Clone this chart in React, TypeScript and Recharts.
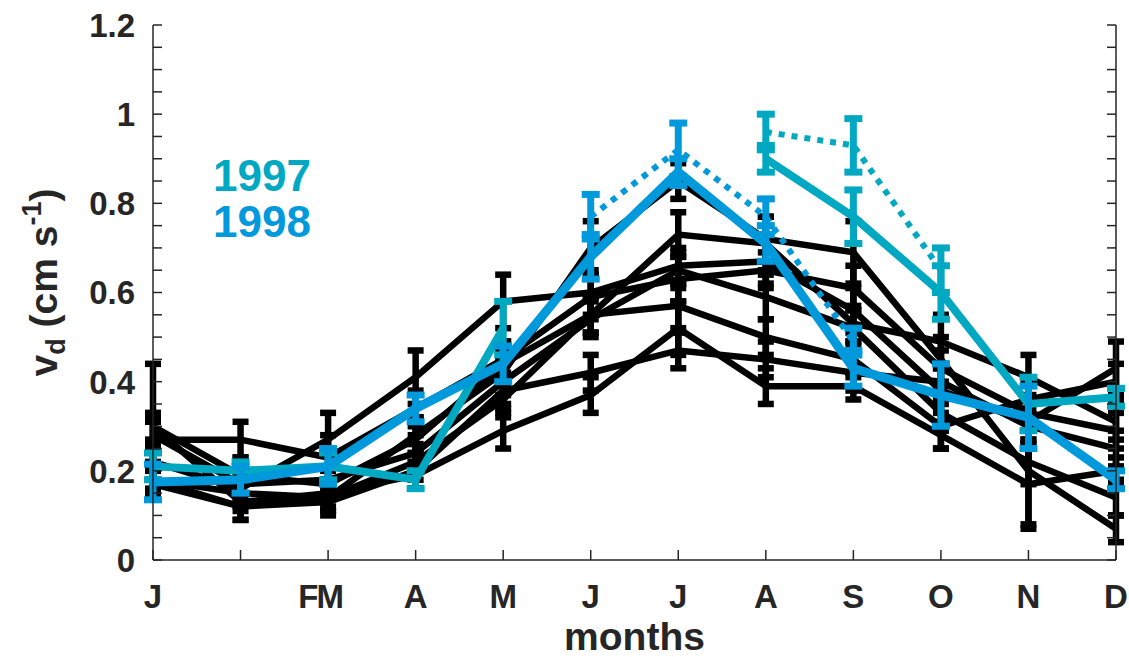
import React from "react";
import { LineChart, Line, XAxis, YAxis, ErrorBar } from "recharts";

// months 1..12, month tick labels as printed on the figure
const months = [1, 2, 3, 4, 5, 6, 7, 8, 9, 10, 11, 12];
const monthLabels = ["J", "", "FM", "A", "M", "J", "J", "A", "S", "O", "N", "D"];

const yTicks = [
  0, 0.05, 0.1, 0.15, 0.2, 0.25, 0.3, 0.35, 0.4, 0.45, 0.5, 0.55, 0.6, 0.65,
  0.7, 0.75, 0.8, 0.85, 0.9, 0.95, 1, 1.05, 1.1, 1.15, 1.2,
];
const yLabels = ["0", "0.2", "0.4", "0.6", "0.8", "1", "1.2"];

// other years (black)
const b1 = [0.18, 0.15, 0.14, 0.28, 0.42, 0.7, 0.85, 0.72, 0.69, 0.45, 0.2, 0.07];
const b2 = [0.3, 0.19, 0.17, 0.27, 0.44, 0.55, 0.73, 0.71, 0.53, 0.49, 0.41, 0.31];
const b3 = [0.27, 0.27, 0.23, 0.34, 0.45, 0.59, 0.63, 0.65, 0.61, 0.43, 0.33, 0.29];
const b4 = [0.22, 0.16, 0.27, 0.41, 0.58, 0.6, 0.66, 0.67, 0.56, 0.38, 0.31, 0.43];
const b5 = [0.28, 0.17, 0.18, 0.24, 0.4, 0.54, 0.65, 0.59, 0.52, 0.33, 0.22, 0.14];
const b6 = [0.17, 0.12, 0.14, 0.22, 0.36, 0.55, 0.57, 0.5, 0.45, 0.3, 0.36, 0.4];
const b7 = [0.18, 0.12, 0.13, 0.2, 0.38, 0.42, 0.47, 0.45, 0.42, 0.4, 0.3, 0.25];
const b8 = [0.3, 0.13, 0.15, 0.19, 0.29, 0.37, 0.52, 0.39, 0.39, 0.28, 0.17, 0.2];

const b1Err = [0.03, 0.03, 0.03, 0.04, 0.05, 0.06, 0.04, 0.05, 0.07, 0.05, 0.12, 0.03];
const b2Err = [0.14, 0.04, 0.03, 0.05, 0.05, 0.04, 0.05, 0.06, 0.04, 0.06, 0.05, 0.04];
const b3Err = [0.05, 0.04, 0.05, 0.04, 0.04, 0.05, 0.05, 0.04, 0.05, 0.04, 0.04, 0.04];
const b4Err = [0.04, 0.03, 0.06, 0.06, 0.06, 0.05, 0.04, 0.05, 0.05, 0.05, 0.05, 0.06];
const b5Err = [0.03, 0.03, 0.03, 0.04, 0.05, 0.04, 0.04, 0.05, 0.04, 0.04, 0.05, 0.04];
const b6Err = [0.03, 0.03, 0.03, 0.04, 0.04, 0.04, 0.05, 0.04, 0.04, 0.05, 0.04, 0.04];
const b7Err = [0.03, 0.03, 0.03, 0.04, 0.04, 0.04, 0.04, 0.04, 0.04, 0.04, 0.04, 0.04];
const b8Err = [0.03, 0.02, 0.03, 0.03, 0.04, 0.04, 0.06, 0.04, 0.03, 0.03, 0.1, 0.03];

const blackSeries = [b1, b2, b3, b4, b5, b6, b7, b8];
const blackErrors = [b1Err, b2Err, b3Err, b4Err, b5Err, b6Err, b7Err, b8Err];

// 1997 and 1998
const y1997 = [0.21, 0.2, 0.21, 0.18, 0.52, null, null, 0.9, 0.77, 0.6, 0.35, 0.365];
const y1997Err = [0.03, 0.02, 0.03, 0.02, 0.06, null, null, 0.03, 0.06, 0.06, 0.06, 0.02];
const y1998 = [0.175, 0.18, 0.21, 0.34, 0.44, 0.68, 0.87, 0.71, 0.43, 0.37, 0.32, 0.18];
const y1998Err = [0.04, 0.03, 0.04, 0.03, 0.04, 0.05, 0.03, 0.04, 0.04, 0.07, 0.07, 0.02];

// dotted variants
const y1997Dot = [null, null, null, null, null, null, null, 0.96, 0.93, 0.65, null, null];
const y1997DotErr = [null, null, null, null, null, null, null, 0.04, 0.06, 0.05, null, null];
const y1998Dot = [null, null, null, null, null, 0.77, 0.92, 0.77, 0.49, null, null, null];
const y1998DotErr = [null, null, null, null, null, 0.05, 0.06, 0.04, 0.03, null, null, null];

const TEAL = "#00A8C2";
const BLUE = "#0099DC";
const AXIS = "#262626";
const FONT = "'Liberation Sans', Arial, Helvetica, sans-serif";

const data = months.map((m, i) => {
  const row: any = {
    m,
    t97: y1997[i],
    t97e: y1997Err[i],
    t98: y1998[i],
    t98e: y1998Err[i],
    d97: y1997Dot[i],
    d97e: y1997DotErr[i],
    d98: y1998Dot[i],
    d98e: y1998DotErr[i],
  };
  blackSeries.forEach((s, k) => {
    row[`b${k}`] = s[i];
    row[`b${k}e`] = blackErrors[k][i];
  });
  return row;
});

const LeftTick = (p: any) => {
  const v = p.payload.value;
  const lab = yLabels.find((l) => Math.abs(parseFloat(l) - v) < 1e-6);
  return (
    <g>
      <line x1={p.x} x2={p.x + 9} y1={p.y} y2={p.y} stroke={AXIS} strokeWidth={1.5} />
      {lab !== undefined && (
        <text
          x={p.x - 18}
          y={p.y}
          dy="0.36em"
          textAnchor="end"
          fontFamily={FONT}
          fontWeight="bold"
          fontSize={33}
          fill={AXIS}
        >
          {lab}
        </text>
      )}
    </g>
  );
};

const RightTick = (p: any) => (
  <line x1={p.x} x2={p.x - 9} y1={p.y} y2={p.y} stroke={AXIS} strokeWidth={1.5} />
);

const BottomTick = (p: any) => {
  const i = months.indexOf(p.payload.value);
  return (
    <g>
      <line x1={p.x} x2={p.x} y1={p.y} y2={p.y - 10} stroke={AXIS} strokeWidth={1.5} />
      <text
        x={p.x - (monthLabels[i] === "FM" ? 8 : 0)}
        y={p.y + 36}
        dy="0.36em"
        textAnchor="middle"
        fontFamily={FONT}
        fontWeight="bold"
        fontSize={33}
        letterSpacing={monthLabels[i] === "FM" ? -2 : 0}
        fill={AXIS}
      >
        {monthLabels[i]}
      </text>
    </g>
  );
};

const TopTick = (p: any) => (
  <line x1={p.x} x2={p.x} y1={p.y} y2={p.y + 10} stroke={AXIS} strokeWidth={1.5} />
);

const MonthsLabel = (p: any) => {
  const vb = p.viewBox;
  return (
    <text
      x={vb.x + vb.width / 2}
      y={vb.y + 90}
      textAnchor="middle"
      fontFamily={FONT}
      fontWeight="bold"
      fontSize={39}
      fill={AXIS}
    >
      months
    </text>
  );
};

const VdLabel = (p: any) => {
  const vb = p.viewBox;
  const cx = vb.x + 4;
  const cy = vb.y + vb.height / 2 - 10;
  return (
    <text
      x={cx}
      y={cy}
      transform={`rotate(-90, ${cx}, ${cy})`}
      textAnchor="middle"
      fontFamily={FONT}
      fontWeight="bold"
      fontSize={39}
      fill={AXIS}
    >
      v
      <tspan fontSize={27} dy={8}>d</tspan>
      <tspan dy={-8}> (cm s</tspan>
      <tspan fontSize={27} dy={-16}>-1</tspan>
      <tspan dy={16}>)</tspan>
    </text>
  );
};

export default function App() {
  return (
    <div style={{ position: "absolute", left: 0, top: 0, width: 1129, height: 657, background: "#fff" }}>
      <LineChart
        width={1129}
        height={657}
        data={data}
        margin={{ top: 25, right: 0, bottom: 0, left: 53 }}
      >
        <XAxis
          dataKey="m"
          type="number"
          domain={[1, 12]}
          ticks={months}
          interval={0}
          height={97}
          tickSize={0}
          tickMargin={0}
          tick={<BottomTick />}
          tickLine={false}
          axisLine={{ stroke: AXIS, strokeWidth: 1.5 }}
          label={<MonthsLabel />}
        />
        <XAxis
          xAxisId="top"
          orientation="top"
          dataKey="m"
          type="number"
          domain={[1, 12]}
          ticks={months}
          interval={0}
          height={0}
          tickSize={0}
          tickMargin={0}
          tick={<TopTick />}
          tickLine={false}
          axisLine={{ stroke: AXIS, strokeWidth: 1.5 }}
        />
        <YAxis
          type="number"
          domain={[0, 1.2]}
          ticks={yTicks}
          interval={0}
          width={100}
          tickSize={0}
          tickMargin={0}
          tick={<LeftTick />}
          tickLine={false}
          axisLine={{ stroke: AXIS, strokeWidth: 1.5 }}
          label={<VdLabel />}
        />
        <YAxis
          yAxisId="right"
          orientation="right"
          type="number"
          domain={[0, 1.2]}
          ticks={yTicks}
          interval={0}
          width={13}
          tickSize={0}
          tickMargin={0}
          tick={<RightTick />}
          tickLine={false}
          axisLine={{ stroke: AXIS, strokeWidth: 1.5 }}
        />

        {/* keeps the mirrored axes bound */}
        <Line
          xAxisId="top"
          yAxisId="right"
          dataKey="b0"
          stroke="none"
          dot={false}
          activeDot={false}
          isAnimationActive={false}
        />

        {blackSeries.map((_, k) => (
          <Line
            key={k}
            dataKey={`b${k}`}
            stroke="#000"
            strokeWidth={6.5}
            dot={false}
            activeDot={false}
            isAnimationActive={false}
          >
            <ErrorBar dataKey={`b${k}e`} width={8} strokeWidth={6.5} stroke="#000" direction="y" isAnimationActive={false} />
          </Line>
        ))}

        <Line dataKey="t97" stroke={TEAL} strokeWidth={8} dot={false} activeDot={false} isAnimationActive={false}>
          <ErrorBar dataKey="t97e" width={9} strokeWidth={7} stroke={TEAL} direction="y" isAnimationActive={false} />
        </Line>
        <Line dataKey="d97" stroke={TEAL} strokeWidth={6} strokeDasharray="6 7" dot={false} activeDot={false} isAnimationActive={false}>
          <ErrorBar dataKey="d97e" width={9} strokeWidth={7} stroke={TEAL} direction="y" isAnimationActive={false} />
        </Line>
        <Line dataKey="t98" stroke={BLUE} strokeWidth={9} dot={false} activeDot={false} isAnimationActive={false}>
          <ErrorBar dataKey="t98e" width={9} strokeWidth={7} stroke={BLUE} direction="y" isAnimationActive={false} />
        </Line>
        <Line dataKey="d98" stroke={BLUE} strokeWidth={6} strokeDasharray="6 7" dot={false} activeDot={false} isAnimationActive={false}>
          <ErrorBar dataKey="d98e" width={9} strokeWidth={7} stroke={BLUE} direction="y" isAnimationActive={false} />
        </Line>
      </LineChart>

      <div
        style={{
          position: "absolute",
          left: 213,
          top: 153,
          fontFamily: FONT,
          fontWeight: "bold",
          fontSize: 44,
          lineHeight: "46px",
        }}
      >
        <div style={{ color: TEAL }}>1997</div>
        <div style={{ color: BLUE }}>1998</div>
      </div>
    </div>
  );
}
